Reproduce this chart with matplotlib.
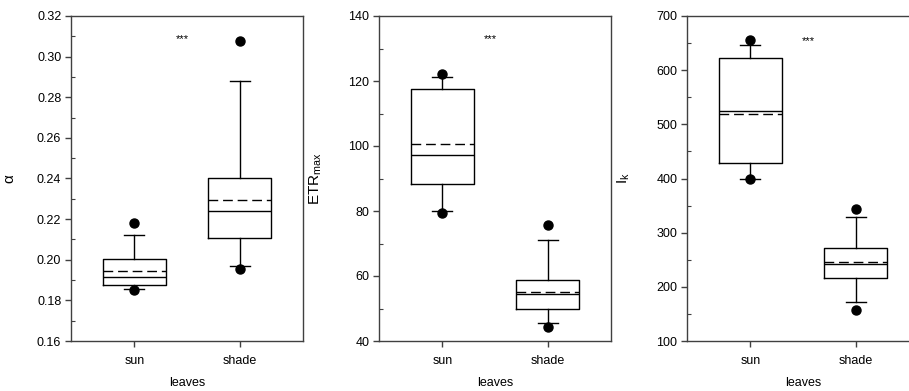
import numpy as np
import matplotlib.pyplot as plt
from matplotlib.ticker import MultipleLocator, FormatStrFormatter

plt.rcParams['font.family'] = ['Liberation Sans', 'DejaVu Sans']

groups = ["sun", "shade"]

# alpha (initial slope)
alpha_med = [0.1915, 0.2238]
alpha_mean = [0.1946, 0.2296]
alpha_q1 = [0.1874, 0.2106]
alpha_q3 = [0.2002, 0.2402]
alpha_whislo = [0.1857, 0.1968]
alpha_whishi = [0.2123, 0.2882]
alpha_fliers = [[0.2179, 0.1851], [0.3075, 0.1953]]

# ETRmax
etr_med = [97.1, 54.5]
etr_mean = [100.5, 55.2]
etr_q1 = [88.2, 50.0]
etr_q3 = [117.5, 58.8]
etr_whislo = [80.0, 45.4]
etr_whishi = [121.1, 71.0]
etr_fliers = [[122.2, 79.3], [75.6, 44.3]]

# Ik
ik_med = [524, 241.6]
ik_mean = [519.6, 245]
ik_q1 = [428, 216]
ik_q3 = [622.5, 271]
ik_whislo = [400, 171.5]
ik_whishi = [647, 329.5]
ik_fliers = [[655, 398.5], [343, 157.2]]


def make_stats(med, mean, q1, q3, lo, hi, fliers):
    stats = []
    for i, g in enumerate(groups):
        stats.append({"label": g, "med": med[i], "mean": mean[i], "q1": q1[i],
                      "q3": q3[i], "whislo": lo[i], "whishi": hi[i],
                      "fliers": fliers[i]})
    return stats


panels = [
    (make_stats(alpha_med, alpha_mean, alpha_q1, alpha_q3, alpha_whislo, alpha_whishi, alpha_fliers),
     "α", (0.16, 0.32), 0.02, "%.2f", (1.46, 0.3085), 71),
    (make_stats(etr_med, etr_mean, etr_q1, etr_q3, etr_whislo, etr_whishi, etr_fliers),
     r"ETR$_{\mathregular{max}}$", (40, 140), 20, "%d", (1.46, 132.9), 379),
    (make_stats(ik_med, ik_mean, ik_q1, ik_q3, ik_whislo, ik_whishi, ik_fliers),
     r"I$_{\mathregular{k}}$", (100, 700), 100, "%d", (1.55, 654), 687),
]

W, H = 909, 391
fig = plt.figure(figsize=(W / 100, H / 100), dpi=100)
spine_col = "#404040"

for stats, ylab, ylim, step, fmt, star_xy, left_px in panels:
    ax = fig.add_axes([left_px / W, 50 / H, 232 / W, 325 / H])
    ax.bxp(stats, positions=[1, 2], widths=0.6, capwidths=0.19,
           showmeans=True, meanline=True,
           boxprops=dict(color="black", linewidth=1.0),
           medianprops=dict(color="black", linewidth=1.0),
           meanprops=dict(color="black", linewidth=1.0, linestyle=(0, (7, 3.5))),
           whiskerprops=dict(color="black", linewidth=1.0),
           capprops=dict(color="black", linewidth=1.0),
           flierprops=dict(marker="o", markerfacecolor="black",
                           markeredgecolor="black", markersize=6.5))
    ax.set_xlim(0.4, 2.6)
    ax.set_ylim(*ylim)
    ax.yaxis.set_major_locator(MultipleLocator(step))
    ax.yaxis.set_minor_locator(MultipleLocator(step / 2))
    ax.yaxis.set_major_formatter(FormatStrFormatter(fmt))
    ax.set_xticks([1, 2], groups)
    for sp in ax.spines.values():
        sp.set_color(spine_col)
        sp.set_linewidth(1.0)
    ax.tick_params(axis="both", which="major", direction="out", length=4,
                   width=1.0, color=spine_col, labelsize=9, pad=3)
    ax.tick_params(axis="y", which="minor", direction="in", length=3,
                   width=0.8, color=spine_col)
    ax.tick_params(axis="x", pad=6)
    ax.set_ylabel(ylab, fontsize=11)
    ax.set_xlabel("leaves", fontsize=9)
    ax.yaxis.set_label_coords(-0.235, 0.5)
    ax.xaxis.set_label_coords(0.5, -0.11)
    ax.text(star_xy[0], star_xy[1], "***", fontsize=8, ha="center", va="center")

fig.savefig("out.png", dpi=100)
